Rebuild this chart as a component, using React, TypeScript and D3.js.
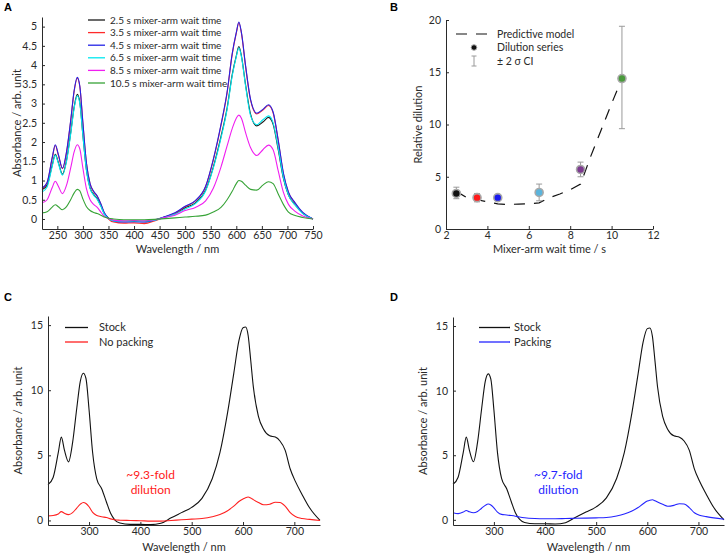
import { useRef, useEffect } from 'react';
import * as d3 from 'd3';

const FONT = 'Lato, "Open Sans", sans-serif';
const INK = '#2a2a2a';

// Panel A: absorbance spectra for each mixer-arm wait time
const waveA = [220, 230, 240, 246, 252, 260, 268, 276, 283, 289, 294, 300, 307, 314, 321, 328, 335, 342, 350, 360, 380, 400, 420, 440, 460, 480, 500, 520, 540, 555, 570, 582, 592, 600, 605, 610, 618, 628, 640, 652, 663, 672, 682, 692, 702, 715, 730, 750];
const abs25 = [0.76, 0.88, 1.40, 1.68, 1.47, 1.16, 1.53, 2.23, 2.92, 3.24, 3.03, 2.18, 1.27, 0.81, 0.64, 0.53, 0.35, 0.14, 0.02, -0.05, -0.07, -0.06, -0.07, -0.03, 0.05, 0.14, 0.29, 0.42, 0.75, 1.35, 2.14, 2.88, 3.75, 4.24, 4.48, 4.24, 3.50, 2.72, 2.42, 2.52, 2.64, 2.46, 1.80, 1.06, 0.62, 0.37, 0.15, 0.00];
const abs35 = [0.79, 0.94, 1.58, 1.91, 1.66, 1.31, 1.73, 2.53, 3.33, 3.66, 3.44, 2.48, 1.44, 0.91, 0.71, 0.59, 0.39, 0.14, 0.00, -0.08, -0.11, -0.10, -0.12, -0.05, 0.05, 0.15, 0.32, 0.47, 0.84, 1.53, 2.43, 3.28, 4.28, 4.83, 5.10, 4.83, 3.98, 3.08, 2.73, 2.83, 2.95, 2.76, 2.03, 1.18, 0.69, 0.41, 0.16, 0.00];
const abs45 = [0.80, 0.95, 1.60, 1.93, 1.68, 1.32, 1.75, 2.55, 3.35, 3.68, 3.45, 2.50, 1.45, 0.92, 0.72, 0.60, 0.40, 0.16, 0.02, -0.05, -0.08, -0.07, -0.08, -0.03, 0.06, 0.16, 0.33, 0.48, 0.85, 1.55, 2.45, 3.30, 4.30, 4.85, 5.12, 4.85, 4.00, 3.10, 2.75, 2.85, 2.97, 2.78, 2.05, 1.20, 0.70, 0.42, 0.17, 0.00];
const abs65 = [0.70, 0.83, 1.37, 1.66, 1.45, 1.14, 1.50, 2.20, 2.89, 3.20, 3.00, 2.16, 1.25, 0.79, 0.62, 0.51, 0.33, 0.12, 0.01, -0.05, -0.06, -0.05, -0.06, -0.03, 0.04, 0.12, 0.26, 0.40, 0.73, 1.32, 2.10, 2.85, 3.72, 4.22, 4.45, 4.22, 3.47, 2.68, 2.45, 2.58, 2.68, 2.50, 1.84, 1.08, 0.62, 0.36, 0.14, 0.00];
const abs85 = [0.42, 0.50, 0.82, 0.98, 0.85, 0.66, 0.88, 1.32, 1.75, 1.93, 1.82, 1.32, 0.78, 0.50, 0.38, 0.30, 0.18, 0.07, 0.01, -0.03, -0.05, -0.04, -0.05, -0.02, 0.04, 0.10, 0.22, 0.30, 0.47, 0.80, 1.35, 1.90, 2.35, 2.62, 2.70, 2.62, 2.25, 1.85, 1.65, 1.80, 1.92, 1.80, 1.25, 0.70, 0.38, 0.20, 0.08, 0.00];
const abs105 = [0.16, 0.19, 0.31, 0.37, 0.32, 0.24, 0.32, 0.50, 0.68, 0.77, 0.73, 0.52, 0.32, 0.22, 0.17, 0.14, 0.10, 0.05, 0.02, 0.00, -0.02, -0.02, -0.02, -0.01, 0.01, 0.03, 0.05, 0.07, 0.10, 0.18, 0.30, 0.50, 0.72, 0.92, 1.00, 0.98, 0.88, 0.77, 0.75, 0.88, 0.97, 0.92, 0.65, 0.38, 0.18, 0.09, 0.04, 0.00];
const seriesA = [
  { label: '2.5 s mixer-arm wait time', color: '#1a1a1a', values: abs25 },
  { label: '3.5 s mixer-arm wait time', color: '#ff2a2a', values: abs35 },
  { label: '4.5 s mixer-arm wait time', color: '#2323e6', values: abs45 },
  { label: '6.5 s mixer-arm wait time', color: '#00e8f0', values: abs65 },
  { label: '8.5 s mixer-arm wait time', color: '#f01ef0', values: abs85 },
  { label: '10.5 s mixer-arm wait time', color: '#36a336', values: abs105 },
];

// Panel B: relative dilution vs wait time
const waitTimes = [2.5, 3.5, 4.5, 6.5, 8.5, 10.5];
const dilution = [3.4, 3.0, 3.0, 3.5, 5.7, 14.4];
const ciLow = [2.9, 2.6, 2.85, 2.7, 5.0, 9.6];
const ciHigh = [4.0, 3.4, 3.15, 4.3, 6.4, 19.4];
const dotColors = ['#111111', '#ff1a1a', '#1a1aee', '#5ab4dc', '#7d3a90', '#4a9a3c'];
const modelTime = [2.5, 3, 3.5, 4, 4.5, 5, 5.5, 6, 6.5, 7, 7.5, 8, 8.5, 9, 9.5, 10, 10.5];
const modelDilution = [3.6, 3.0, 2.8, 2.6, 2.4, 2.35, 2.38, 2.42, 2.5, 3.0, 3.35, 3.75, 4.3, 7.0, 9.5, 12.0, 14.4];

// Panels C and D: stock vs diluted
const waveCD = [220, 230, 240, 246, 252, 260, 268, 276, 283, 289, 294, 300, 307, 315, 325, 334, 342, 350, 360, 380, 400, 420, 440, 460, 480, 500, 520, 540, 555, 570, 582, 592, 600, 605, 610, 615, 620, 630, 640, 652, 663, 672, 682, 692, 702, 715, 730, 750];
const stock = [2.75, 3.3, 5.2, 6.4, 5.4, 4.5, 6.0, 8.6, 10.7, 11.3, 10.9, 8.5, 5.2, 3.2, 2.4, 1.4, 0.55, 0.05, -0.2, -0.3, -0.3, -0.32, -0.22, 0.2, 0.6, 1.0, 1.7, 3.2, 5.2, 8.3, 11.3, 13.8, 14.8, 14.85, 14.2, 12.3, 10.3, 8.0, 7.0, 6.5, 6.4, 6.1, 5.4, 3.95, 3.0, 2.0, 0.95, 0.0];
const noPacking = [0.35, 0.38, 0.5, 0.68, 0.55, 0.45, 0.6, 0.95, 1.25, 1.38, 1.3, 1.05, 0.62, 0.38, 0.28, 0.22, 0.12, 0.05, 0.02, 0.0, -0.02, -0.05, -0.05, 0.0, 0.05, 0.1, 0.15, 0.28, 0.45, 0.75, 1.1, 1.45, 1.65, 1.75, 1.8, 1.72, 1.6, 1.38, 1.2, 1.25, 1.4, 1.38, 1.1, 0.6, 0.3, 0.15, 0.08, 0.0];
const packing = [0.55, 0.48, 0.6, 0.72, 0.62, 0.55, 0.65, 0.9, 1.12, 1.22, 1.15, 0.92, 0.6, 0.42, 0.38, 0.33, 0.28, 0.22, 0.16, 0.1, 0.08, 0.08, 0.1, 0.12, 0.13, 0.15, 0.18, 0.3, 0.45, 0.68, 0.95, 1.25, 1.45, 1.52, 1.55, 1.48, 1.38, 1.2, 1.05, 1.12, 1.25, 1.22, 0.95, 0.55, 0.35, 0.25, 0.15, 0.05];

type Sel = d3.Selection<SVGGElement, unknown, null, undefined>;
type Lin = d3.ScaleLinear<number, number>;

function drawAxes(g: Sel, x: Lin, y: Lin, xTicks: number[], yTicks: number[]) {
  const style = (a: Sel) => {
    a.select('.domain').attr('stroke', INK);
    a.selectAll('line').attr('stroke', INK);
    a.selectAll('text').attr('fill', INK).style('font-size', '10.5px').style('font-family', FONT);
  };
  g.append('g')
    .attr('transform', `translate(0,${y.range()[0]})`)
    .call(d3.axisBottom(x).tickValues(xTicks).tickSizeInner(-3).tickSizeOuter(0).tickPadding(3).tickFormat(d3.format('~g')))
    .call(style);
  g.append('g')
    .attr('transform', `translate(${x.range()[0]},0)`)
    .call(d3.axisLeft(y).tickValues(yTicks).tickSizeInner(-3).tickSizeOuter(0).tickPadding(5).tickFormat(d3.format('~g')))
    .call(style);
}

function axisLabels(svg: Sel, x: Lin, y: Lin, xText: string, yText: string, yLabelX: number, xLabelY: number) {
  const [x0, x1] = x.range();
  const [y0, y1] = y.range();
  svg.append('text')
    .attr('x', (x0 + x1) / 2).attr('y', xLabelY)
    .attr('text-anchor', 'middle').attr('fill', INK)
    .style('font-size', '11px').style('font-family', FONT)
    .text(xText);
  svg.append('text')
    .attr('transform', `translate(${yLabelX},${(y0 + y1) / 2}) rotate(-90)`)
    .attr('text-anchor', 'middle').attr('fill', INK)
    .style('font-size', '11px').style('font-family', FONT)
    .text(yText);
}

function panelLetter(svg: Sel, letter: string, px: number, py: number) {
  svg.append('text')
    .attr('x', px).attr('y', py)
    .attr('fill', '#000').style('font-weight', 'bold')
    .style('font-size', '11px').style('font-family', 'Arial, "Liberation Sans", sans-serif')
    .text(letter);
}

function spectrum(g: Sel, x: Lin, y: Lin, waves: number[], values: number[], color: string) {
  const line = d3.line<number>()
    .x((_, i) => x(waves[i]))
    .y((d) => y(d))
    .curve(d3.curveMonotoneX);
  g.append('path')
    .datum(values)
    .attr('d', line)
    .attr('fill', 'none')
    .attr('stroke', color)
    .attr('stroke-width', 1.1);
}

export default function App() {
  const svgRef = useRef<SVGSVGElement>(null);

  useEffect(() => {
    if (!svgRef.current) return;
    const root = d3.select(svgRef.current);
    root.selectAll('*').remove();
    const svg = root.append('g') as unknown as Sel;

    // ---- Panel A ----
    const xA = d3.scaleLinear().domain([220, 750]).range([42, 313]);
    const yA = d3.scaleLinear().domain([-0.26, 5.25]).range([229, 17]);
    const gA = svg.append('g');
    seriesA.forEach((s) => spectrum(gA, xA, yA, waveA, s.values, s.color));
    drawAxes(gA, xA, yA, d3.range(250, 751, 50), d3.range(0, 5.01, 0.5));
    axisLabels(svg, xA, yA, 'Wavelength / nm', 'Absorbance / arb. unit', 21, 253);
    panelLetter(svg, 'A', 4, 11);
    const legA = svg.append('g');
    seriesA.forEach((s, i) => {
      const ly = 20 + i * 12.6;
      legA.append('line').attr('x1', 88).attr('x2', 105).attr('y1', ly).attr('y2', ly)
        .attr('stroke', s.color).attr('stroke-width', 1.3);
      legA.append('text').attr('x', 110).attr('y', ly + 3.5)
        .attr('fill', INK).style('font-size', '10px').style('font-family', FONT)
        .text(s.label);
    });

    // ---- Panel B ----
    const xB = d3.scaleLinear().domain([2, 12]).range([446, 653]);
    const yB = d3.scaleLinear().domain([0, 20]).range([229, 20]);
    const gB = svg.append('g');
    drawAxes(gB, xB, yB, d3.range(2, 12.01, 2), d3.range(0, 20.01, 5));
    const model = d3.line<number>().x((_, i) => xB(modelTime[i])).y((d) => yB(d));
    gB.append('path').datum(modelDilution).attr('d', model)
      .attr('fill', 'none').attr('stroke', '#111').attr('stroke-width', 1.2)
      .attr('stroke-dasharray', '11,9');
    waitTimes.forEach((t, i) => {
      const cx = xB(t);
      gB.append('line').attr('x1', cx).attr('x2', cx).attr('y1', yB(ciLow[i])).attr('y2', yB(ciHigh[i]))
        .attr('stroke', '#9a9a9a').attr('stroke-width', 1);
      [ciLow[i], ciHigh[i]].forEach((v) => {
        gB.append('line').attr('x1', cx - 3).attr('x2', cx + 3).attr('y1', yB(v)).attr('y2', yB(v))
          .attr('stroke', '#9a9a9a').attr('stroke-width', 1);
      });
      gB.append('circle').attr('cx', cx).attr('cy', yB(dilution[i])).attr('r', 4)
        .attr('fill', dotColors[i]).attr('stroke', '#a8a8a8').attr('stroke-width', 1.6);
    });
    axisLabels(svg, xB, yB, 'Mixer-arm wait time / s', 'Relative dilution', 422, 253);
    panelLetter(svg, 'B', 390, 11);
    const legB = svg.append('g').style('font-size', '10.5px').style('font-family', FONT);
    legB.append('line').attr('x1', 456).attr('x2', 488).attr('y1', 34).attr('y2', 34)
      .attr('stroke', '#111').attr('stroke-width', 1.2).attr('stroke-dasharray', '11,9');
    legB.append('text').attr('x', 497).attr('y', 37.6).attr('fill', INK).text('Predictive model');
    legB.append('circle').attr('cx', 474).attr('cy', 47.5).attr('r', 2.8)
      .attr('fill', '#111').attr('stroke', '#a8a8a8').attr('stroke-width', 1);
    legB.append('text').attr('x', 497).attr('y', 51.1).attr('fill', INK).text('Dilution series');
    legB.append('line').attr('x1', 474).attr('x2', 474).attr('y1', 56).attr('y2', 66)
      .attr('stroke', '#9a9a9a');
    [56, 66].forEach((v) => legB.append('line').attr('x1', 471.5).attr('x2', 476.5).attr('y1', v).attr('y2', v).attr('stroke', '#9a9a9a'));
    legB.append('text').attr('x', 497).attr('y', 64.6).attr('fill', INK).text('± 2 σ CI');

    // ---- Panels C and D ----
    const panels = [
      { letter: 'C', lx: 4, x: [48, 320], yr: [525, 316], yd: [-0.35, 15.7], sample: noPacking, color: '#ff2020', label: 'No packing', note: '~9.3-fold', yLab: 22, leg: [65, 88, 99] },
      { letter: 'D', lx: 390, x: [453, 724], yr: [525, 317], yd: [-0.4, 15.7], sample: packing, color: '#2424ff', label: 'Packing', note: '~9.7-fold', yLab: 427, leg: [479, 510, 514] },
    ];
    panels.forEach((p) => {
      const x = d3.scaleLinear().domain([220, 750]).range(p.x);
      const y = d3.scaleLinear().domain(p.yd).range(p.yr);
      const g = svg.append('g');
      spectrum(g, x, y, waveCD, stock, '#111');
      spectrum(g, x, y, waveCD, p.sample, p.color);
      drawAxes(g, x, y, d3.range(300, 701, 100), [0, 5, 10, 15]);
      axisLabels(svg, x, y, 'Wavelength / nm', 'Absorbance / arb. unit', p.yLab, 551);
      panelLetter(svg, p.letter, p.lx, 301);
      const [a, b, tx] = p.leg;
      [{ c: '#111', t: 'Stock', yy: 327.5 }, { c: p.color, t: p.label, yy: 342 }].forEach((r) => {
        svg.append('line').attr('x1', a).attr('x2', b).attr('y1', r.yy).attr('y2', r.yy)
          .attr('stroke', r.c).attr('stroke-width', 1.3);
        svg.append('text').attr('x', tx).attr('y', r.yy + 3.8).attr('fill', INK)
          .style('font-size', '11px').style('font-family', FONT).text(r.t);
      });
      const cx = x(p.letter === 'C' ? 420 : 426);
      [p.note, 'dilution'].forEach((t, i) => {
        svg.append('text').attr('x', cx).attr('y', 479 + i * 15)
          .attr('text-anchor', 'middle').attr('fill', p.color)
          .style('font-size', '12px').style('font-family', FONT).text(t);
      });
    });
  }, []);

  return (
    <svg
      ref={svgRef}
      width={726}
      height={554}
      style={{ position: 'absolute', left: 0, top: 0, background: '#fff' }}
    />
  );
}
